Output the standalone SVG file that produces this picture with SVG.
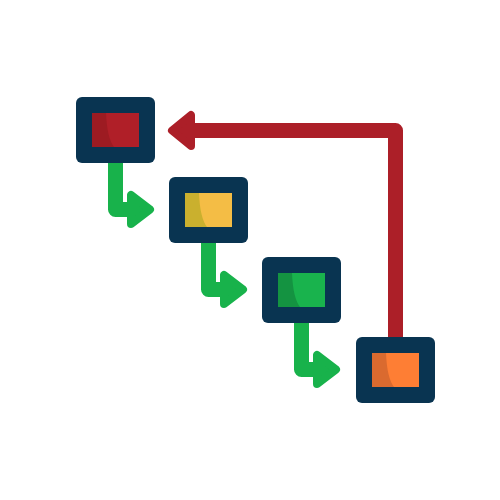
<svg xmlns="http://www.w3.org/2000/svg" width="500" height="500" viewBox="0 0 500 500">
<defs>
<style>
.frame{fill:#093451}
.shaft{fill:none;stroke-width:15;stroke-linejoin:round}
.head{stroke-width:8;stroke-linejoin:round}
.g{stroke:#18B24B}
.gf{fill:#18B24B}
.r{stroke:#AC1F28}
.rf{fill:#AC1F28}
</style>
</defs>
<rect width="500" height="500" fill="#ffffff"/>
<g id="connectors">
<path class="shaft r" d="M395.5,338 V130.5 H192"/>
<polygon class="head r rf" points="172,130.5 191,115 191,146"/>
<path class="shaft g" d="M115.5,160 V209.5 H135"/>
<polygon class="head g gf" points="150,209.5 131,195 131,224"/>
<path class="shaft g" d="M208.5,240 V289.5 H228"/>
<polygon class="head g gf" points="243,289.5 224,275 224,304"/>
<path class="shaft g" d="M301.5,320 V369.5 H321"/>
<polygon class="head g gf" points="336,369.5 317,355 317,384"/>
</g>
<g id="node1">
<rect class="frame" x="76" y="97" width="79" height="66" rx="6"/>
<rect x="92" y="113" width="47" height="34" fill="#B01F28"/>
<path d="M92,113 H106 Q107,138 114,147 H92 Z" fill="#9D1B22"/>
</g>
<g id="node2">
<rect class="frame" x="169" y="177" width="79" height="66" rx="6"/>
<rect x="185" y="193" width="47" height="34" fill="#F4BD45"/>
<path d="M185,193 H199 Q200,218 207,227 H185 Z" fill="#CAB02E"/>
</g>
<g id="node3">
<rect class="frame" x="262" y="257" width="79" height="66" rx="6"/>
<rect x="278" y="273" width="47" height="34" fill="#19B34D"/>
<path d="M278,273 H292 Q293,298 300,307 H278 Z" fill="#149341"/>
</g>
<g id="node4">
<rect class="frame" x="356" y="337" width="79" height="66" rx="6"/>
<rect x="372" y="353" width="47" height="34" fill="#FE7E34"/>
<path d="M372,353 H386 Q387,378 394,387 H372 Z" fill="#DA6A2F"/>
</g>
</svg>
